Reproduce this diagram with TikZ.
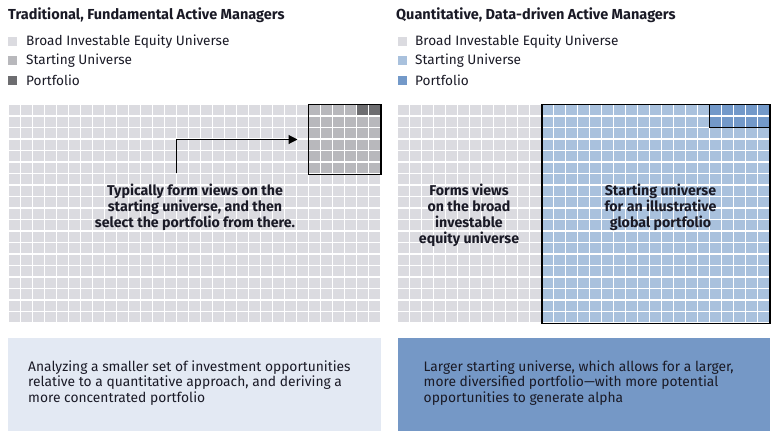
\documentclass[tikz,border=0pt]{standalone}
\usepackage{fontspec}
\setmainfont{Fira Sans}
\usetikzlibrary{arrows.meta}
\definecolor{broad}{HTML}{DBDBE0}
\definecolor{lstart}{HTML}{B8B8BC}
\definecolor{lport}{HTML}{6D6D70}
\definecolor{rstart}{HTML}{A9C1DD}
\definecolor{rport}{HTML}{7399C9}
\definecolor{lboxc}{HTML}{E3E9F3}
\definecolor{rboxc}{HTML}{7598C6}
\definecolor{ink}{HTML}{1A1A26}
\tikzset{
  hdr/.style={anchor=west, inner sep=0pt, text=ink, font=\fontsize{14.5}{16}\selectfont\bfseries},
  legtxt/.style={anchor=west, inner sep=0pt, text=ink, font=\fontsize{13.6}{16}\selectfont},
  legsq/.style={minimum width=9pt, minimum height=9pt, inner sep=0pt, anchor=center},
  gridtxt/.style={align=center, inner sep=0pt, text=ink, font=\fontsize{14.2}{16.1}\selectfont\bfseries},
  boxtxt/.style={align=left, anchor=west, inner sep=0pt, text=ink, font=\fontsize{13.8}{15.2}\selectfont},
  frame/.style={draw=black, line width=1.1pt, inner sep=0pt, outer sep=0pt},
  panel/.style={inner sep=0pt, outer sep=0pt, anchor=north west},
}
\begin{document}
\begin{tikzpicture}[x=1pt,y=-1pt]
\useasboundingbox[fill=white] (0,0) rectangle (780,440);
% headers
\node[hdr] (h1) at (8,15) {Traditional, Fundamental Active Managers};
\node[hdr] (h2) at (396,15) {Quantitative, Data-driven Active Managers};
% legends
\node[legsq, fill=broad] (l1a) at (12.8,41.7) {};
\node[legsq, fill=lstart] (l1b) at (12.8,60.8) {};
\node[legsq, fill=lport] (l1c) at (12.8,80.8) {};
\node[legtxt] (t1a) at (26,42) {Broad Investable Equity Universe};
\node[legtxt] (t1b) at (26,61) {Starting Universe};
\node[legtxt] (t1c) at (26,80.5) {Portfolio};
\node[legsq, fill=broad] (l2a) at (402,41.7) {};
\node[legsq, fill=rstart] (l2b) at (402,60.8) {};
\node[legsq, fill=rport] (l2c) at (402,80.8) {};
\node[legtxt] (t2a) at (415,42) {Broad Investable Equity Universe};
\node[legtxt] (t2b) at (415,61) {Starting Universe};
\node[legtxt] (t2c) at (415,80.5) {Portfolio};
% left grid
\foreach \i in {0,...,30}{
  \foreach \j in {0,...,18}{
    \pgfmathsetmacro{\xa}{9+12*\i}
    \pgfmathsetmacro{\ya}{105+11.5*\j}
    \def\col{broad}
    \ifnum\i>24 \ifnum\j<6 \def\col{lstart}\fi\fi
    \ifnum\i>28 \ifnum\j<1 \def\col{lport}\fi\fi
    \fill[\col] (\xa,\ya) rectangle ++(10.8,10.3);
  }
}
% right grid
\foreach \i in {0,...,30}{
  \foreach \j in {0,...,18}{
    \pgfmathsetmacro{\xa}{398+12*\i}
    \pgfmathsetmacro{\ya}{105+11.5*\j}
    \def\col{broad}
    \ifnum\i>11 \def\col{rstart}\fi
    \ifnum\i>25 \ifnum\j<2 \def\col{rport}\fi\fi
    \fill[\col] (\xa,\ya) rectangle ++(10.8,10.3);
  }
}
% frames
\node[frame, minimum width=72.5pt, minimum height=69.8pt, anchor=north west] (lsu) at (308.5,104.6) {};
\node[frame, minimum width=228pt, minimum height=218.6pt, anchor=north west] (rsu) at (542,104.6) {};
\node[frame, minimum width=60.5pt, minimum height=23pt, anchor=north east] (rpf) at (rsu.north east) {};
% arrow
\coordinate (astart) at (176.5,173);
\draw[line width=1.1pt, -{Triangle[length=9pt,width=9pt]}] (astart) |- ([xshift=-11pt]lsu.west |- 0,139.5);
% grid texts
\node[gridtxt] (g1) at (195,207.5) {Typically form views on the\\starting universe, and then\\select the portfolio from there.};
\node[gridtxt] (g2) at (469,215.5) {Forms views\\on the broad\\investable\\equity universe};
\node[gridtxt] (g3) at (660.5,207.5) {Starting universe\\for an illustrative\\global portfolio};
% bottom panels
\node[panel, fill=lboxc, minimum width=373pt, minimum height=93pt] (lbox) at (8,338) {};
\node[panel, fill=rboxc, minimum width=372pt, minimum height=93pt] (rbox) at (398,338) {};
\node[boxtxt] (bt1) at (28,383) {Analyzing a smaller set of investment opportunities\\relative to a quantitative approach, and deriving a\\more concentrated portfolio};
\node[boxtxt] (bt2) at (423.5,383) {Larger starting universe, which allows for a larger,\\more diversified portfolio---with more potential\\opportunities to generate alpha};
\end{tikzpicture}
\end{document}
